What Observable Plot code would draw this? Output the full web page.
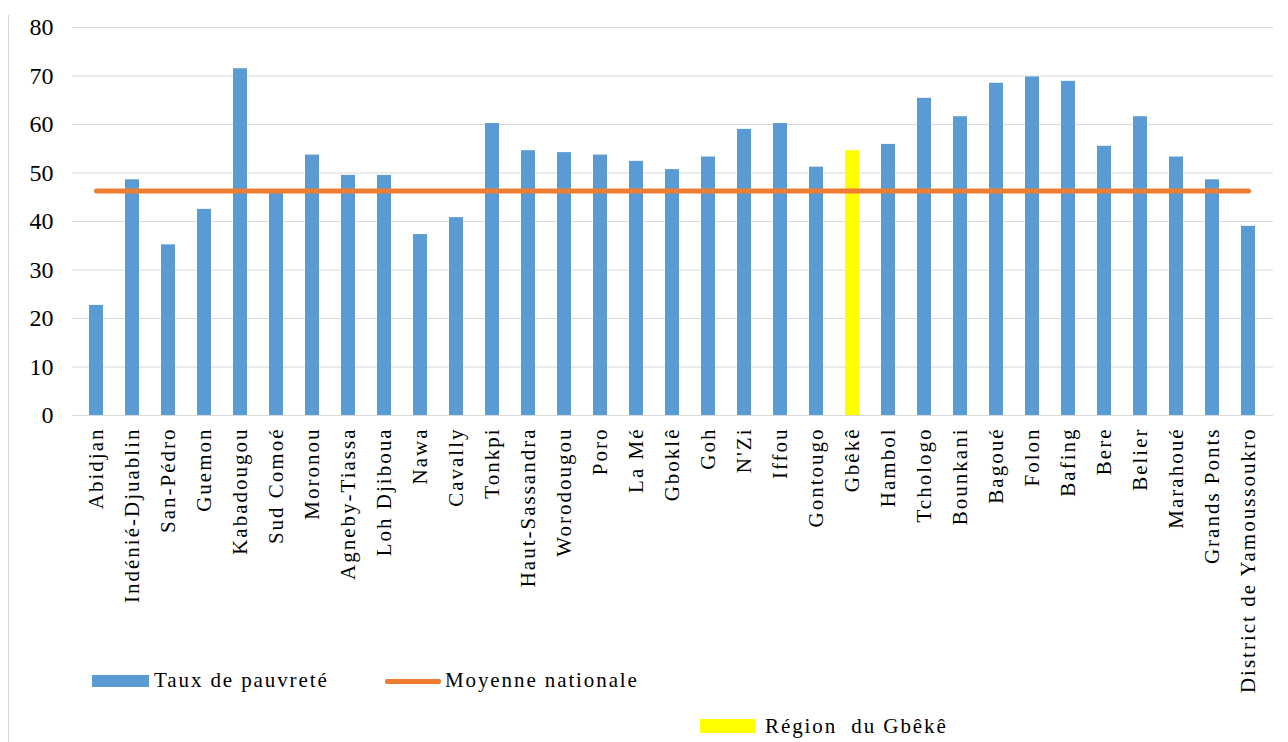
<!DOCTYPE html>
<html>
<head>
<meta charset="utf-8">
<script src="https://cdn.jsdelivr.net/npm/d3@7"></script>
<script src="https://cdn.jsdelivr.net/npm/@observablehq/plot@0.6"></script>
<style>
  body { margin: 0; background: #fff; }
  #wrap { position: relative; width: 1288px; height: 742px; overflow: hidden; font-family: "Liberation Serif", "Times New Roman", serif; }
  #frame { position: absolute; left: 8px; top: 15px; width: 1px; height: 727px; background: #d4d4d4; }
  .leg { position: absolute; font-size: 21px; color: #000; white-space: nowrap; letter-spacing: 1.9px; }
  .sw { position: absolute; }
  g[aria-label="x-axis tick label"] text { letter-spacing: 2px; }
</style>
</head>
<body>
<div id="wrap">
  <div id="chart"></div>
  <div id="frame"></div>
  <div class="sw" style="left:92px;top:675px;width:57px;height:12px;background:#5B9BD5"></div>
  <div class="leg" style="left:154px;top:668px">Taux de pauvreté</div>
  <div class="sw" style="left:385px;top:679px;width:56px;height:5px;background:#ED7D31;border-radius:2px"></div>
  <div class="leg" style="left:445px;top:668px">Moyenne nationale</div>
  <div class="sw" style="left:700px;top:719px;width:55px;height:14px;background:#FFFF00"></div>
  <div class="leg" style="left:765px;top:714px">Région&nbsp; du Gbêkê</div>
</div>
<script>
const categories = ["Abidjan","Indénié-Djuablin","San-Pédro","Guemon","Kabadougou","Sud Comoé","Moronou","Agneby-Tiassa","Loh Djiboua","Nawa","Cavally","Tonkpi","Haut-Sassandra","Worodougou","Poro","La Mé","Gboklê","Goh","N'Zi","Iffou","Gontougo","Gbêkê","Hambol","Tchologo","Bounkani","Bagoué","Folon","Bafing","Bere","Belier","Marahoué","Grands Ponts","District de Yamoussoukro"];
const tauxPauvrete = [22.7, 48.6, 35.2, 42.5, 71.5, 46.0, 53.7, 49.5, 49.5, 37.3, 40.8, 60.2, 54.6, 54.2, 53.7, 52.4, 50.7, 53.3, 59.0, 60.2, 51.2, 54.6, 55.9, 65.4, 61.6, 68.5, 69.8, 68.9, 55.5, 61.6, 53.3, 48.6, 39.0];
const moyenneNationale = 46.3;
const highlighted = "Gbêkê";
const yTicks = [0, 10, 20, 30, 40, 50, 60, 70, 80];

const data = categories.map((c, i) => ({region: c, taux: tauxPauvrete[i], moyenne: moyenneNationale}));

const chart = Plot.plot({
  width: 1288,
  height: 742,
  marginLeft: 72,
  marginRight: 15,
  marginTop: 27,
  marginBottom: 327,
  style: {fontFamily: "'Liberation Serif', 'Times New Roman', serif", background: "transparent", color: "#000"},
  x: {domain: categories, paddingInner: 0.6, paddingOuter: 0.3, label: null},
  y: {domain: [0, 80], label: null},
  marks: [
    Plot.ruleY(yTicks, {stroke: "#d9d9d9", strokeWidth: 1.2}),
    Plot.barY(data, {x: "region", y: "taux", fill: d => d.region === highlighted ? "#FFFF00" : "#5B9BD5"}),
    Plot.lineY(data, {x: "region", y: "moyenne", stroke: "#ED7D31", strokeWidth: 5, strokeLinecap: "round"}),
    Plot.axisY({ticks: yTicks, tickSize: 0, tickPadding: 19, fontSize: 24, label: null}),
    Plot.axisX({tickSize: 0, tickPadding: 12, tickRotate: -90, fontSize: 21, label: null})
  ]
});
document.getElementById("chart").appendChild(chart);
</script>
</body>
</html>
